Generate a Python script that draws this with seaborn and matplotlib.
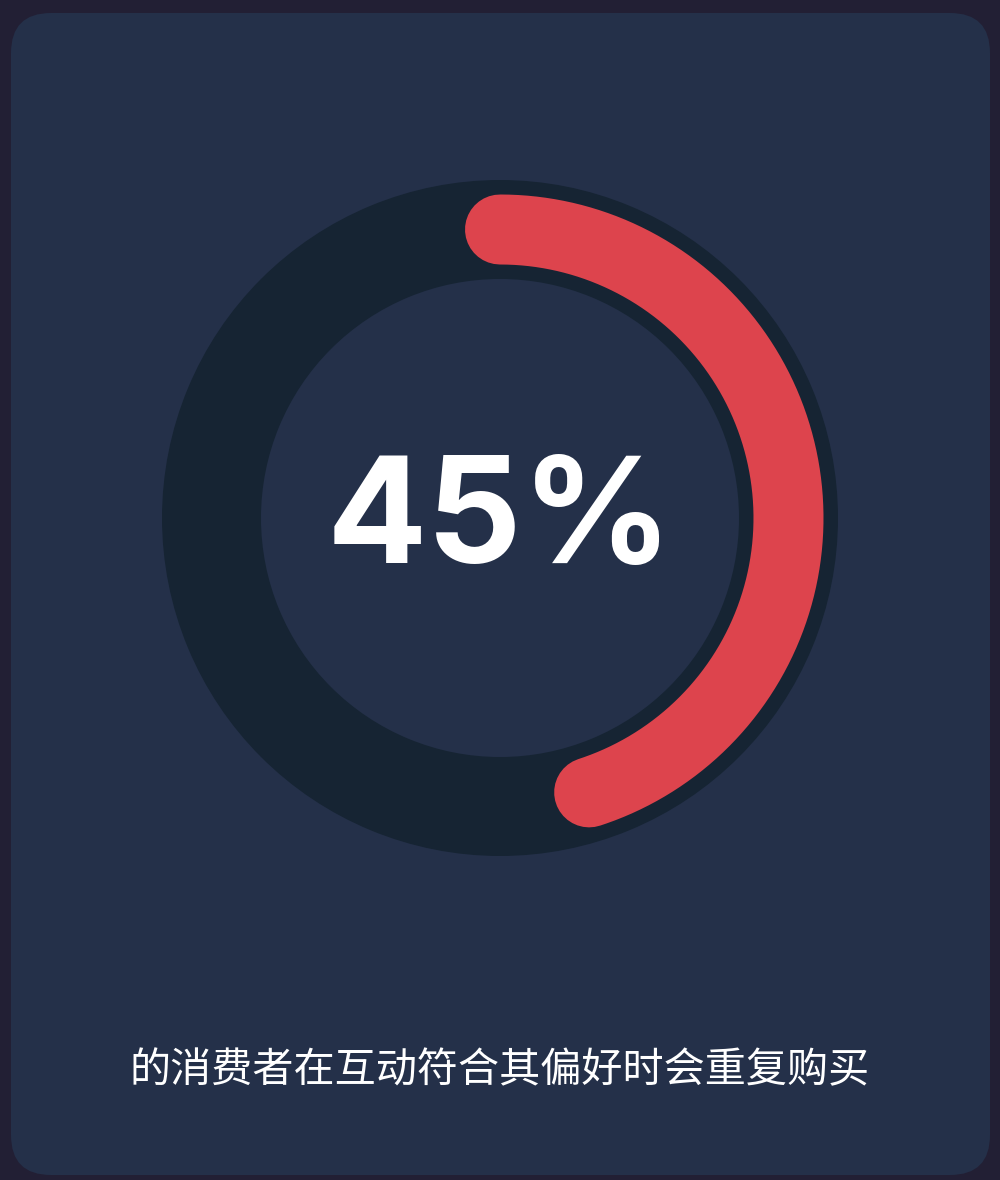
import numpy as np
import pandas as pd
import matplotlib
matplotlib.use("Agg")
import matplotlib.pyplot as plt
from matplotlib.patches import FancyBboxPatch, Wedge
import seaborn as sns

# data
percent_value = 45
value_label = "45%"
caption = "的消费者在互动符合其偏好时会重复购买"

sns.set_theme(style="white")
plt.rcParams['font.family'] = ['Noto Sans CJK SC', 'DejaVu Sans']

W, H = 1000, 1180
fig = plt.figure(figsize=(W / 100, H / 100), dpi=100, facecolor="#221f34")
ax = fig.add_axes([0, 0, 1, 1])
ax.set_facecolor("#221f34")

# card
card = FancyBboxPatch((11 + 40, 13 + 40), 979 - 80, 1162 - 80,
                      boxstyle="round,pad=40", fc="#243049", ec="none", zorder=1)
ax.add_patch(card)

cx, cy = 500, 518
r_out, r_in = 338, 239
track = Wedge((cx, cy), r_out, 0, 360, width=r_out - r_in, fc="#162433", ec="none", zorder=2)
ax.add_patch(track)

# progress arc
r_mid = (r_out + r_in) / 2
theta = np.linspace(0, 2 * np.pi * percent_value / 100, 400)
arc = pd.DataFrame({"x": cx + r_mid * np.sin(theta), "y": cy - r_mid * np.cos(theta)})
lw_pt = 70 * 72 / 100
sns.lineplot(data=arc, x="x", y="y", sort=False, ax=ax, color="#dd444d",
             linewidth=lw_pt, zorder=3)
for ln in ax.lines:
    ln.set_solid_capstyle("round")
ax.set_xlim(0, W)
ax.set_ylim(H, 0)
ax.set_aspect("equal")
ax.axis("off")

ax.text(cx, 563, value_label, ha="center", va="baseline", color="white",
        fontsize=107, fontweight="bold", family=["Inter", "DejaVu Sans"], zorder=4)
ax.text(cx, 1071, caption, ha="center", va="center", color="white",
        fontsize=29.6, family=["Noto Sans CJK SC", "DejaVu Sans"], zorder=4)

fig.savefig("out.png", dpi=100, facecolor=fig.get_facecolor())
